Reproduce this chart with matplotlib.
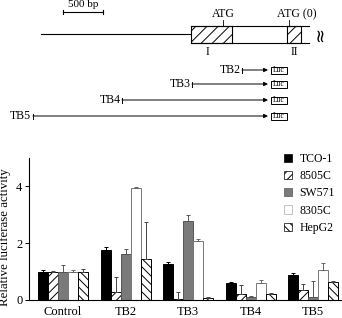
import numpy as np
import matplotlib.pyplot as plt
from matplotlib.patches import Rectangle, Patch

plt.rcParams['font.family'] = ['Liberation Serif', 'DejaVu Sans']
plt.rcParams['hatch.linewidth'] = 0.7

# === data: luciferase assay ===
groups = ['Control', 'TB2', 'TB3', 'TB4', 'TB5']
cells = ['TCO-1', '8505C', 'SW571', '8305C', 'HepG2']
tco1 = [1.00, 1.75, 1.27, 0.60, 0.89]
tco1_err = [0.05, 0.12, 0.07, 0.03, 0.05]
c8505 = [0.98, 0.27, 0.05, 0.20, 0.36]
c8505_err = [0.05, 0.55, 0.22, 0.34, 0.22]
sw571 = [1.00, 1.61, 2.77, 0.10, 0.11]
sw571_err = [0.25, 0.19, 0.23, 0.03, 0.57]
c8305 = [1.00, 3.95, 2.07, 0.60, 1.07]
c8305_err = [0.07, 0.04, 0.08, 0.10, 0.25]
hepg2 = [1.00, 1.46, 0.08, 0.20, 0.64]
hepg2_err = [0.10, 1.30, 0.03, 0.05, 0.03]

# === data: promoter schematic (bp) ===
bp_per_px = 12.5
line_start = 512
exon1 = (2388, 2900)
exon2 = (3588, 3762)
atg1, atg0 = 2788, 3612
box_end = 3862
luc_tip = 3350
luc_box = (3388, 3588)
constructs = ['TB2', 'TB3', 'TB4', 'TB5']
construct_start = [3025, 2400, 1525, 412]
construct_row = [70, 84, 100, 116]
scale_bar = (788, 1288)

fig = plt.figure(figsize=(3.42, 3.18), dpi=100)

# ---------- schematic ----------
ad = fig.add_axes([0, 1 - 130 / 318, 1, 130 / 318])
ad.set_xlim(0, 342 * bp_per_px)
ad.set_ylim(130, 0)
ad.axis('off')
lw = 0.8
ad.plot(scale_bar, [12, 12], color='k', lw=lw)
for x in scale_bar:
    ad.plot([x, x], [10, 14], color='k', lw=lw)
ad.text(np.mean(scale_bar), 9, '500 bp', ha='center', va='bottom', fontsize=8)

ad.plot([line_start, exon1[0]], [34, 34], color='k', lw=lw)
ad.plot([exon1[0], box_end], [26, 26], color='k', lw=lw)
ad.plot([exon1[0], box_end], [43, 43], color='k', lw=lw)
for ex in (exon1, exon2):
    ad.add_patch(Rectangle((ex[0], 26), ex[1] - ex[0], 17, facecolor='white',
                           edgecolor='k', lw=lw, hatch='///'))
ad.text(box_end + 150, 34, '≈', rotation=90, ha='center', va='center',
        fontsize=13, family='DejaVu Sans')
ad.plot([atg1, atg1], [20, 26], color='k', lw=0.6)
ad.plot([atg0, atg0], [20, 26], color='k', lw=0.6)
ad.text(atg1, 20, 'ATG', ha='center', va='bottom', fontsize=8.5)
ad.text(atg0 + 100, 20, 'ATG (0)', ha='center', va='bottom', fontsize=8.5)
ad.text(np.mean(exon1) - 50, 46, 'I', ha='center', va='top', fontsize=8.5)
ad.text(np.mean(exon2), 46, 'II', ha='center', va='top', fontsize=8.5)

for name, start, y in zip(constructs, construct_start, construct_row):
    ad.plot([start, start], [y - 2.5, y + 2.5], color='k', lw=0.7)
    ad.annotate('', xy=(luc_tip, y), xytext=(start, y),
                arrowprops=dict(arrowstyle='-|>', color='k', lw=0.7,
                                mutation_scale=6, shrinkA=0, shrinkB=0))
    ad.add_patch(Rectangle((luc_box[0], y - 3.5), luc_box[1] - luc_box[0], 7,
                           facecolor='white', edgecolor='k', lw=0.7))
    ad.text(np.mean(luc_box), y, 'Luc', ha='center', va='center', fontsize=5.5)
    ad.text(start - 20, y, name, ha='right', va='center', fontsize=8.5)

# ---------- bar chart ----------
ax = fig.add_axes([29.3 / 342, 18 / 318, 1 - 29.3 / 342, 142 / 318])
x = np.arange(len(groups))
w = 0.16
series = [tco1, c8505, sw571, c8305, hepg2]
errs = [tco1_err, c8505_err, sw571_err, c8305_err, hepg2_err]
faces = ['black', 'white', '#7a7a7a', 'white', 'white']
edges = ['black', 'black', '#555555', '#777777', 'black']
hatches = [None, '////', None, None, '\\\\\\\\']
ecols = ['black', '#444444', '#555555', '#666666', '#444444']
for j, (vals, err) in enumerate(zip(series, errs)):
    pos = x + (j - 2) * w
    ax.bar(pos, vals, width=w, color=faces[j], edgecolor=edges[j],
           hatch=hatches[j], lw=0.7, label=cells[j])
    ax.errorbar(pos, vals, yerr=[np.zeros(len(err)), err], fmt='none',
                ecolor=ecols[j], elinewidth=0.7, capsize=1.5, capthick=0.7)

ax.set_xlim(-0.54, 4.464)
ax.set_ylim(0, 5)
ax.set_yticks([0, 2, 4])
ax.set_xticks(x)
ax.set_xticklabels(groups, fontsize=9)
ax.tick_params(axis='x', length=0, pad=4)
ax.tick_params(axis='y', length=3, width=0.7, labelsize=9, pad=2)
for s in ['top', 'right']:
    ax.spines[s].set_visible(False)
for s in ['left', 'bottom']:
    ax.spines[s].set_linewidth(0.8)
ax.set_ylabel('Relative luciferase activity', fontsize=9.3, labelpad=3)
ax.yaxis.set_label_coords(-0.06, 0.44)

handles = [Patch(facecolor=faces[j], edgecolor=edges[j] if j != 3 else '#aaaaaa',
                 hatch=hatches[j], lw=0.5) for j in range(5)]
ax.legend(handles, cells, loc='upper left', bbox_to_anchor=(0.8, 1.07),
          frameon=False, fontsize=8.5, handlelength=0.7, handleheight=0.7,
          handletextpad=0.6, labelspacing=0.45, borderaxespad=0)

fig.savefig('out.png', dpi=100)
